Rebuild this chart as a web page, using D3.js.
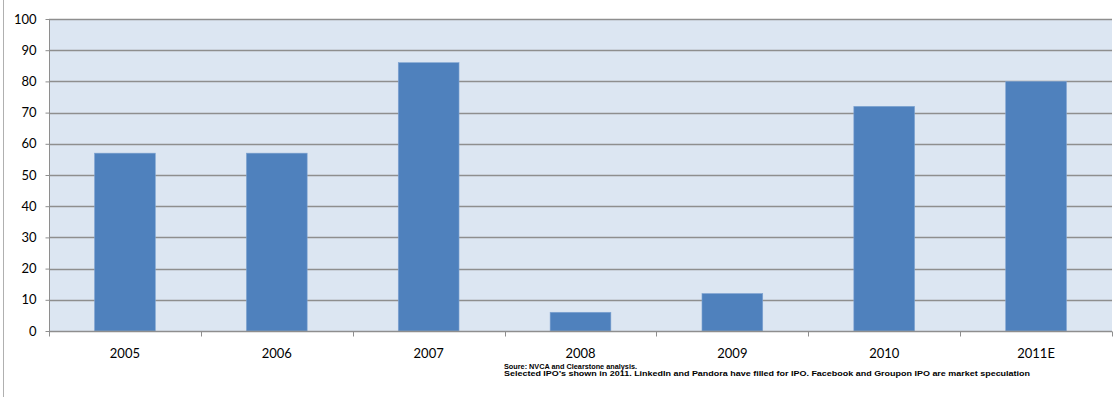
<!DOCTYPE html>
<html><head><meta charset="utf-8">
<script src="https://cdn.jsdelivr.net/npm/d3@7"></script>
<style>body{margin:0;background:#fff;}svg{display:block;}</style>
</head><body><svg id="c" width="1114" height="397"></svg>
<script>
const categories = ["2005","2006","2007","2008","2009","2010","2011E"];
const values = [57,57,86,6,12,72,80];
const yTicks = [0,10,20,30,40,50,60,70,80,90,100];
const notes = ["Soure: NVCA and Clearstone analysis.",
  "Selected IPO\u2019s shown in 2011. LinkedIn and Pandora have filled for IPO. Facebook and Groupon IPO are market speculation"];

const svg = d3.select("#c");
const L = 49, R = 1112, T = 19, B = 331;
const x = d3.scaleBand().domain(categories).range([L, R]).paddingInner(0.6).paddingOuter(0.3);
const xb = d3.scaleBand().domain(categories).range([L, R]);
const y = d3.scaleLinear().domain([0,100]).range([B, T]);

// left border
svg.append("line").attr("x1",3.5).attr("x2",3.5).attr("y1",0).attr("y2",397).attr("stroke","#b0b0b0");

svg.append("rect").attr("x",L).attr("y",T).attr("width",R-L).attr("height",B-T).attr("fill","#dce6f2");

// gridlines
svg.append("g").selectAll("line").data(yTicks.filter(d=>d>0)).join("line")
  .attr("x1",L).attr("x2",R).attr("y1",d=>Math.round(y(d))+0.5).attr("y2",d=>Math.round(y(d))+0.5)
  .attr("stroke","#8e8e8e").attr("stroke-width",1.3);

// bars
svg.append("g").selectAll("rect").data(values).join("rect")
  .attr("x",(d,i)=>x(categories[i])).attr("width",x.bandwidth())
  .attr("y",d=>y(d)).attr("height",d=>B-y(d))
  .attr("fill","#4f81bd").attr("stroke","#7ea3d1").attr("stroke-width",0.6);

// y axis
const ya = d3.axisLeft(y).tickValues(yTicks).tickSize(4).tickPadding(9);
const gy = svg.append("g").attr("transform",`translate(${L+0.5},0)`).call(ya);
gy.select(".domain").attr("stroke","#8e8e8e").attr("d",`M0,${T}V${B}`);
gy.selectAll(".tick line").attr("stroke","#8e8e8e");
gy.selectAll("text").attr("font-family","Lato, 'Open Sans', sans-serif").attr("font-size",13).attr("fill","#000");

// x axis
const gx = svg.append("g").attr("transform",`translate(0,${B+0.5})`);
gx.append("line").attr("x1",L).attr("x2",R).attr("stroke","#8e8e8e").attr("stroke-width",1.3);
const bounds = categories.map(c=>xb(c)).concat([R]);
gx.selectAll("line.t").data(bounds).join("line").attr("class","t")
  .attr("x1",d=>Math.round(d)+0.5).attr("x2",d=>Math.round(d)+0.5).attr("y1",0).attr("y2",5).attr("stroke","#8e8e8e");
gx.selectAll("text").data(categories).join("text")
  .attr("x",d=>xb(d)+xb.bandwidth()/2).attr("y",26).attr("text-anchor","middle")
  .attr("font-family","Lato, 'Open Sans', sans-serif").attr("font-size",13).attr("fill","#000").text(d=>d);

// notes
svg.append("g").selectAll("text").data(notes).join("text")
  .attr("x",504).attr("y",(d,i)=>369+i*7)
  .attr("font-family","'Liberation Sans', Arial, sans-serif").attr("font-weight","bold").attr("font-size",8)
  .attr("fill","#000")
  .attr("textLength",(d,i)=>i===1?526:133)
  .attr("lengthAdjust","spacingAndGlyphs")
  .text(d=>d);
</script></body></html>
